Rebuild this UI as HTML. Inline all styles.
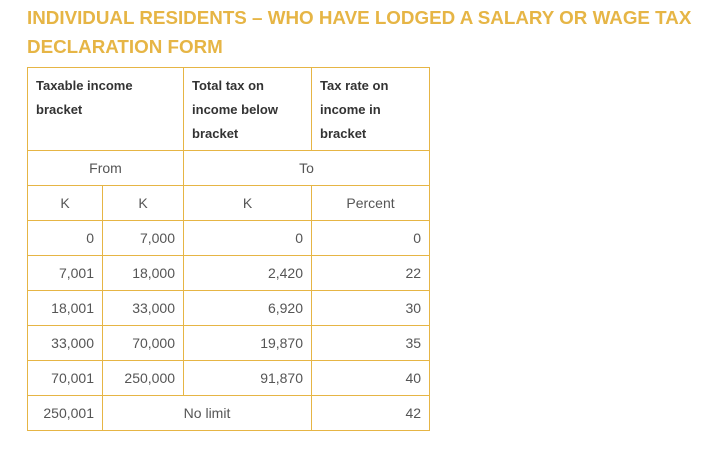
<!DOCTYPE html>
<html><head><meta charset="utf-8"><style>
body{margin:0;width:702px;height:456px;background:#fff;font-family:"Liberation Sans",sans-serif;overflow:hidden;position:relative}
h1{position:absolute;left:27px;top:3px;margin:0;font-size:18.8px;line-height:29px;font-weight:bold;color:#e6b545;letter-spacing:0;width:690px}
table{position:absolute;left:27px;top:67px;border-collapse:collapse;table-layout:fixed;width:402px}
td{border:1px solid #e6b545;padding:0 8px;font-size:14px;color:#555;height:35px;box-sizing:border-box}
td.h{vertical-align:top;font-weight:bold;font-size:13px;color:#333;line-height:24px;padding-top:6px;height:83px}
.c{text-align:center}.r{text-align:right}
</style></head><body>
<h1>INDIVIDUAL RESIDENTS – WHO HAVE LODGED A SALARY OR WAGE TAX DECLARATION FORM</h1>
<table>
<colgroup><col style="width:75px"><col style="width:81px"><col style="width:128px"><col style="width:118px"></colgroup>
<tr><td class="h" colspan="2">Taxable income<br>bracket</td><td class="h">Total tax on<br>income below<br>bracket</td><td class="h">Tax rate on<br>income in<br>bracket</td></tr>
<tr><td class="c" colspan="2">From</td><td class="c" colspan="2">To</td></tr>
<tr><td class="c">K</td><td class="c">K</td><td class="c">K</td><td class="c">Percent</td></tr>
<tr><td class="r">0</td><td class="r">7,000</td><td class="r">0</td><td class="r">0</td></tr>
<tr><td class="r">7,001</td><td class="r">18,000</td><td class="r">2,420</td><td class="r">22</td></tr>
<tr><td class="r">18,001</td><td class="r">33,000</td><td class="r">6,920</td><td class="r">30</td></tr>
<tr><td class="r">33,000</td><td class="r">70,000</td><td class="r">19,870</td><td class="r">35</td></tr>
<tr><td class="r">70,001</td><td class="r">250,000</td><td class="r">91,870</td><td class="r">40</td></tr>
<tr><td class="r">250,001</td><td class="c" colspan="2">No limit</td><td class="r">42</td></tr>
</table>
</body></html>
